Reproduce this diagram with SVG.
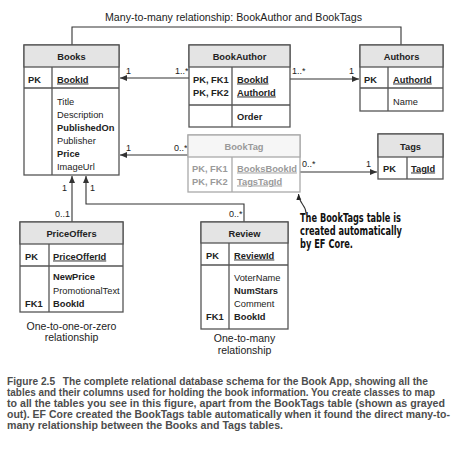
<svg xmlns="http://www.w3.org/2000/svg" width="462" height="450" viewBox="0 0 462 450">
<defs>
<marker id="ah" markerWidth="7" markerHeight="6" refX="7" refY="3" orient="auto" markerUnits="userSpaceOnUse"><path d="M0,0 L7,3 L0,6 z" fill="#333"/></marker>
<marker id="ah2" markerWidth="6" markerHeight="6" refX="6" refY="3" orient="auto" markerUnits="userSpaceOnUse"><path d="M0,0.5 L6,3 L0,5.5 z" fill="#222"/></marker>
<style>
.box{fill:#fff;stroke:#555;stroke-width:1.3}
.hdr{fill:#e4e4e4;stroke:#555;stroke-width:1.3}
.ln{stroke:#555;stroke-width:1.3}
.t{font-family:"Liberation Sans",Arial,sans-serif;font-size:9.3px;fill:#222}
.b{font-weight:bold}
.u{text-decoration:underline}
.c{text-anchor:middle}
.gray .box{stroke:#aaa}
.gray .hdr{fill:#f6f6f6;stroke:#aaa}
.gray .ln{stroke:#aaa}
.gray text{fill:#9a9a9a}
.conn{stroke:#333;stroke-width:1.1;fill:none}
.lbl{font-family:"Liberation Sans",Arial,sans-serif;font-size:9px;fill:#222}
.note{font-family:"Liberation Sans",Arial,sans-serif;font-size:10.5px;fill:#222;text-anchor:middle}
.ann{font-family:"DejaVu Sans Condensed","Liberation Sans",sans-serif;font-weight:bold;font-size:11.5px;fill:#111}
.cap{font-family:"Liberation Sans",Arial,sans-serif;font-weight:bold;font-size:10.5px;fill:#4d4d4d}
</style>
</defs>
<rect width="462" height="450" fill="#fff"/>

<g id="connectors">
<path class="conn" d="M72,45 V27 H401 V45" stroke="#555"/>
<line class="conn" x1="189" y1="78" x2="120" y2="78" marker-end="url(#ah)"/>
<line class="conn" x1="290" y1="79" x2="359" y2="79" marker-end="url(#ah)"/>
<line class="conn" x1="188" y1="155" x2="120" y2="155" marker-end="url(#ah)"/>
<line class="conn" x1="300" y1="172" x2="377" y2="172" marker-end="url(#ah)"/>
<line class="conn" x1="72" y1="222" x2="72" y2="176" marker-end="url(#ah)"/>
<path class="conn" d="M244,222 V204 H86 V176" marker-end="url(#ah)"/>
<path class="conn" d="M306,213 C306,205 299,204 298.5,194" stroke="#222" stroke-width="0.9" marker-end="url(#ah2)"/>
<text class="lbl" x="126" y="74">1</text>
<text class="lbl" x="175" y="74">1..*</text>
<text class="lbl" x="292" y="74">1..*</text>
<text class="lbl" x="349" y="74">1</text>
<text class="lbl" x="126" y="151">1</text>
<text class="lbl" x="174" y="151">0..*</text>
<text class="lbl" x="302" y="167">0..*</text>
<text class="lbl" x="366" y="167">1</text>
<text class="lbl" x="62" y="191">1</text>
<text class="lbl" x="90" y="191">1</text>
<text class="lbl" x="55" y="217">0..1</text>
<text class="lbl" x="229" y="217">0..*</text>
</g>

<text class="t" x="105" y="20.5" style="font-size:10px" textLength="257" lengthAdjust="spacingAndGlyphs">Many-to-many relationship: BookAuthor and BookTags</text>

<g id="books">
<rect class="box" x="24" y="45" width="95" height="130"/>
<rect class="hdr" x="24" y="45" width="95" height="22"/>
<line class="ln" x1="24" y1="88" x2="119" y2="88"/>
<line class="ln" x1="52" y1="67" x2="52" y2="175"/>
<text class="t b c" x="71.5" y="59.5">Books</text>
<text class="t b" x="28" y="82.5">PK</text>
<text class="t b u" x="57" y="82.5">BookId</text>
<text class="t" x="57" y="104.5">Title</text>
<text class="t" x="57" y="117.5">Description</text>
<text class="t b" x="57" y="130.5">PublishedOn</text>
<text class="t" x="57" y="143.5">Publisher</text>
<text class="t b" x="57" y="156.5">Price</text>
<text class="t" x="57" y="170">ImageUrl</text>
</g>

<g id="bookauthor">
<rect class="box" x="189" y="45" width="101" height="82"/>
<rect class="hdr" x="189" y="45" width="101" height="22"/>
<line class="ln" x1="189" y1="105" x2="290" y2="105"/>
<line class="ln" x1="232" y1="67" x2="232" y2="127"/>
<text class="t b c" x="239.5" y="59.5">BookAuthor</text>
<text class="t b" x="193" y="82.5">PK, FK1</text>
<text class="t b" x="193" y="95.5">PK, FK2</text>
<text class="t b u" x="237" y="82.5">BookId</text>
<text class="t b u" x="237" y="95.5">AuthorId</text>
<text class="t b" x="237" y="119.5">Order</text>
</g>

<g id="authors">
<rect class="box" x="360" y="45" width="83" height="66"/>
<rect class="hdr" x="360" y="45" width="83" height="22"/>
<line class="ln" x1="360" y1="88" x2="443" y2="88"/>
<line class="ln" x1="388" y1="67" x2="388" y2="111"/>
<text class="t b c" x="401.5" y="59.5">Authors</text>
<text class="t b" x="364" y="82.5">PK</text>
<text class="t b u" x="393" y="82.5">AuthorId</text>
<text class="t" x="393" y="104.5">Name</text>
</g>

<g id="booktag" class="gray">
<rect class="box" x="188" y="135" width="112" height="57"/>
<rect class="hdr" x="188" y="135" width="112" height="22"/>
<line class="ln" x1="232" y1="157" x2="232" y2="192"/>
<text class="t b c" x="244" y="149.5">BookTag</text>
<text class="t b" x="192" y="171.5">PK, FK1</text>
<text class="t b" x="192" y="184.5">PK, FK2</text>
<text class="t b u" x="237" y="171.5">BooksBookId</text>
<text class="t b u" x="237" y="184.5">TagsTagId</text>
</g>

<g id="tags">
<rect class="box" x="378" y="134" width="65" height="45"/>
<rect class="hdr" x="378" y="134" width="65" height="23"/>
<line class="ln" x1="407" y1="157" x2="407" y2="179"/>
<text class="t b c" x="410.5" y="149.5">Tags</text>
<text class="t b" x="383" y="171.5">PK</text>
<text class="t b u" x="411" y="171.5">TagId</text>
</g>

<g id="priceoffers">
<rect class="box" x="20" y="222" width="103" height="90"/>
<rect class="hdr" x="20" y="222" width="103" height="22"/>
<line class="ln" x1="20" y1="266" x2="123" y2="266"/>
<line class="ln" x1="49" y1="244" x2="49" y2="312"/>
<text class="t b c" x="71.5" y="236.5">PriceOffers</text>
<text class="t b" x="25" y="259.5">PK</text>
<text class="t b u" x="53" y="259.5">PriceOfferId</text>
<text class="t b" x="53" y="280">NewPrice</text>
<text class="t" x="53" y="293.5">PromotionalText</text>
<text class="t b" x="25" y="307">FK1</text>
<text class="t b" x="53" y="307">BookId</text>
<text class="note" x="71.5" y="329.5">One-to-one-or-zero</text>
<text class="note" x="71.5" y="341">relationship</text>
</g>

<g id="review">
<rect class="box" x="201" y="222" width="87" height="107"/>
<rect class="hdr" x="201" y="222" width="87" height="21"/>
<line class="ln" x1="201" y1="265" x2="288" y2="265"/>
<line class="ln" x1="229" y1="243" x2="229" y2="329"/>
<text class="t b c" x="244.5" y="236.5">Review</text>
<text class="t b" x="206" y="258.5">PK</text>
<text class="t b u" x="234" y="258.5">ReviewId</text>
<text class="t" x="234" y="280.5">VoterName</text>
<text class="t b" x="234" y="293.5">NumStars</text>
<text class="t" x="234" y="306.5">Comment</text>
<text class="t b" x="206" y="320">FK1</text>
<text class="t b" x="234" y="320">BookId</text>
<text class="note" x="244.5" y="342">One-to-many</text>
<text class="note" x="244.5" y="354">relationship</text>
</g>

<g id="annotation">
<text class="ann" x="300" y="222" textLength="101" lengthAdjust="spacingAndGlyphs">The BookTags table is</text>
<text class="ann" x="300" y="235" textLength="102" lengthAdjust="spacingAndGlyphs">created automatically</text>
<text class="ann" x="300" y="247.5" textLength="53" lengthAdjust="spacingAndGlyphs">by EF Core.</text>
</g>

<g id="caption">
<text class="cap" x="7" y="384.5" textLength="421" lengthAdjust="spacingAndGlyphs">Figure 2.5<tspan dx="8">The complete relational database schema for the Book App, showing all the</tspan></text>
<text class="cap" x="7" y="395.5" textLength="428" lengthAdjust="spacingAndGlyphs">tables and their columns used for holding the book information. You create classes to map</text>
<text class="cap" x="7" y="406.5" textLength="438" lengthAdjust="spacingAndGlyphs">to all the tables you see in this figure, apart from the BookTags table (shown as grayed</text>
<text class="cap" x="7" y="417.5" textLength="443" lengthAdjust="spacingAndGlyphs">out). EF Core created the BookTags table automatically when it found the direct many-to-</text>
<text class="cap" x="7" y="428.5" textLength="276" lengthAdjust="spacingAndGlyphs">many relationship between the Books and Tags tables.</text>
</g>
</svg>
